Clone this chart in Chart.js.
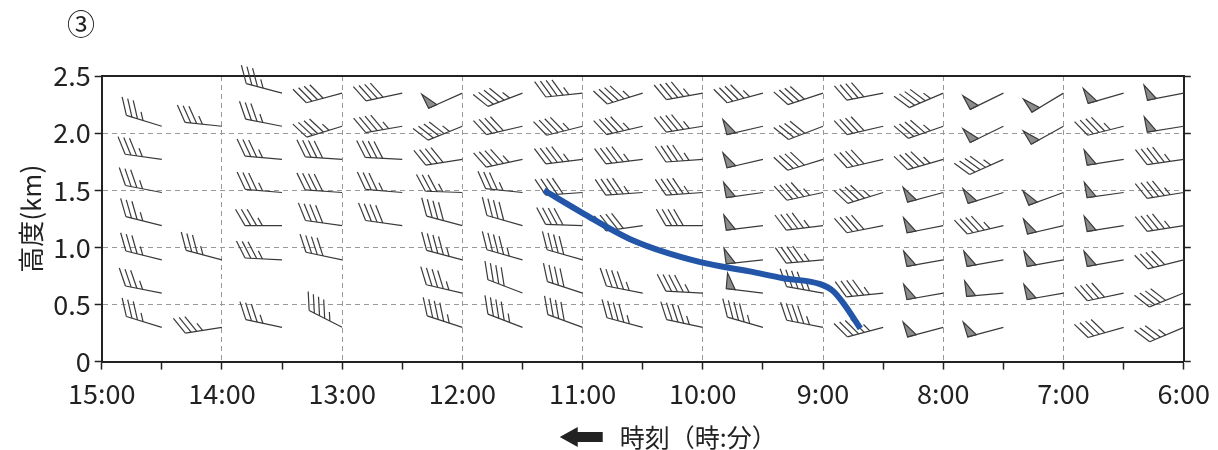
<!DOCTYPE html>
<html>
<head>
<meta charset="utf-8">
<script src="https://cdn.jsdelivr.net/npm/chart.js@4.4.0/dist/chart.umd.min.js"></script>
<style>
  html, body { margin: 0; padding: 0; background: #fff; }
  #grafico { display: block; }
</style>
</head>
<body>
<canvas id="grafico" width="1218" height="450"></canvas>
<script>
// columnas de las barbas (hora) y alturas de cada fila (km)
const horasColumna = [14.5, 14, 13.5, 13, 12.5, 12, 11.5, 11, 10.5, 10, 9.5, 9, 8.5, 8, 7.5, 7, 6.5, 6];
const alturasFila = [0.3, 0.6, 0.89, 1.19, 1.48, 1.77, 2.06, 2.35];

// direccion del viento (grados, de donde sopla) por columna, filas de abajo hacia arriba
const direccionViento = [
  [287, 281, 284, 284, 281, 278, 287, null],
  [261, null, 285, null, null, null, 276, null],
  [282, null, 273, 270, 275, 275, 281, 285],
  [297, null, 282, 278, 274, 274, 253, 255],
  [null, null, null, 278, 275, 273, 260, 258],
  [288, 283, 285, 285, 272, 261, 248, 246],
  [291, 291, 286, 286, 276, 258, 257, 249],
  [290, 288, 286, 272, 266, 263, 256, 264],
  [285, 281, null, 262, 266, 263, 257, 253],
  [282, 273, null, 270, 266, 266, 261, 260],
  [286, 277, 264, 263, 262, 257, 257, 255],
  [281, 280, 265, 263, 258, 253, 249, 252],
  [255, 264, null, 259, 253, 257, 257, 259],
  [255, 260, 260, 259, 255, 254, 251, 247],
  [255, 265, 260, 257, 253, 246, 244, 244],
  [null, 260, 260, 257, 250, null, 241, 239],
  [254, 258, 260, 261, 262, 261, 256, 254],
  [247, 248, 256, 261, 261, 262, 261, 259]
];

// velocidad (nudos) por columna, filas de abajo hacia arriba
const velocidadViento = [
  [35, 35, 35, 35, 35, 35, 35, null],
  [35, null, 35, null, null, null, 35, null],
  [35, null, 35, 35, 35, 35, 35, 35],
  [45, null, 40, 40, 40, 40, 45, 40],
  [null, null, null, 40, 35, 40, 45, 40],
  [45, 45, 45, 40, 35, 40, 45, 50],
  [45, 40, 45, 40, 35, 45, 40, 45],
  [40, 40, 40, 40, 40, 45, 45, 45],
  [45, 45, null, 40, 45, 45, 45, 45],
  [45, 45, null, 40, 45, 45, 45, 45],
  [45, 50, 50, 50, 50, 50, 50, 45],
  [45, 45, 45, 45, 45, 40, 40, 40],
  [45, 45, null, 40, 45, 40, 40, 40],
  [50, 50, 50, 50, 50, 45, 45, 45],
  [50, 50, 50, 45, 50, 45, 50, 50],
  [null, 50, 50, 50, 50, null, 50, 50],
  [40, 40, 50, 50, 50, 50, 45, 50],
  [35, 40, 40, 45, 45, 45, 50, 50]
];

// linea azul (hora, altura km)
const lineaHoras = [11.32, 11.0, 10.58, 10.02, 9.61, 9.33, 9.03, 8.92, 8.83, 8.69];
const lineaAlturas = [1.50, 1.30, 1.06, 0.87, 0.79, 0.73, 0.68, 0.62, 0.51, 0.29];

const ticksAltura = [0, 0.5, 1.0, 1.5, 2.0, 2.5];
const fuente = "'Noto Sans CJK JP', 'Noto Sans', sans-serif";

function dibujarBarba(ctx, sx, sy, grados, nudos) {
  const rad = grados * Math.PI / 180;
  const ux = Math.sin(rad), uy = -Math.cos(rad);
  const largo = 37;
  const tx = sx + ux * largo, ty = sy + uy * largo;
  const rot = (a) => {
    const c = Math.cos(a * Math.PI / 180), s = Math.sin(a * Math.PI / 180);
    return [ux * c - uy * s, ux * s + uy * c];
  };
  ctx.beginPath();
  ctx.moveTo(sx, sy);
  ctx.lineTo(tx, ty);
  ctx.stroke();

  const [fx, fy] = rot(60);
  let resto = nudos;
  let pos = 0;
  while (resto >= 50) {
    const [px, py] = rot(88);
    const bx = tx - ux * pos, by = ty - uy * pos;
    ctx.beginPath();
    ctx.moveTo(bx, by);
    ctx.lineTo(bx + px * 15.5, by + py * 15.5);
    ctx.lineTo(bx - ux * 9, by - uy * 9);
    ctx.closePath();
    ctx.fill();
    ctx.stroke();
    pos += 11;
    resto -= 50;
  }
  while (resto >= 10) {
    const bx = tx - ux * pos, by = ty - uy * pos;
    ctx.beginPath();
    ctx.moveTo(bx, by);
    ctx.lineTo(bx + fx * 19, by + fy * 19);
    ctx.stroke();
    pos += 5.8;
    resto -= 10;
  }
  if (resto >= 5) {
    if (pos === 0) pos = 5.8;
    const bx = tx - ux * pos, by = ty - uy * pos;
    ctx.beginPath();
    ctx.moveTo(bx, by);
    ctx.lineTo(bx + fx * 9, by + fy * 9);
    ctx.stroke();
  }
}

const pluginBarbas = {
  id: "barbas",
  beforeDatasetsDraw(chart) {
    const ctx = chart.ctx;
    const x = chart.scales.x, y = chart.scales.y;
    ctx.save();
    ctx.strokeStyle = "#3a3a3a";
    ctx.fillStyle = "#8c8c8c";
    ctx.lineWidth = 1.2;
    ctx.lineJoin = "miter";
    horasColumna.forEach((hora, i) => {
      alturasFila.forEach((alt, j) => {
        const d = direccionViento[i][j];
        const v = velocidadViento[i][j];
        if (d === null || v === null) return;
        dibujarBarba(ctx, x.getPixelForValue(hora), y.getPixelForValue(alt), d, v);
      });
    });
    ctx.restore();
  },
  afterDraw(chart) {
    const ctx = chart.ctx;
    const area = chart.chartArea;
    ctx.save();
    ctx.fillStyle = "#222";
    ctx.textBaseline = "middle";
    ctx.textAlign = "center";
    ctx.font = "28px " + fuente;
    ctx.fillText("③", 81, 24);
    // titulo del eje x con flecha
    const cx = (area.left + area.right) / 2 + 24;
    const cy = 437;
    ctx.font = "25px " + fuente;
    ctx.textAlign = "left";
    ctx.fillText("時刻（時:分）", cx - 47, cy);
    const ax = cx - 107;
    ctx.beginPath();
    ctx.moveTo(ax, cy);
    ctx.lineTo(ax + 18, cy - 10);
    ctx.lineTo(ax + 18, cy - 5);
    ctx.lineTo(ax + 43, cy - 5);
    ctx.lineTo(ax + 43, cy + 5);
    ctx.lineTo(ax + 18, cy + 5);
    ctx.lineTo(ax + 18, cy + 10);
    ctx.closePath();
    ctx.fill();
    ctx.restore();
  }
};

const datosLinea = lineaHoras.map((h, i) => ({ x: h, y: lineaAlturas[i] }));

const config = {
  type: "line",
  data: {
    datasets: [{
      data: datosLinea,
      borderColor: "#2356a8",
      borderWidth: 6,
      pointRadius: 0,
      cubicInterpolationMode: "monotone",
      fill: false
    }]
  },
  options: {
    responsive: false,
    animation: false,
    layout: { padding: { left: 16, right: 22, top: 68, bottom: 32 } },
    plugins: { legend: { display: false }, tooltip: { enabled: false } },
    scales: {
      x: {
        type: "linear",
        min: 6,
        max: 15,
        reverse: true,
        ticks: {
          stepSize: 0.5,
          autoSkip: false,
          maxRotation: 0,
          color: "#222",
          font: { size: 27, family: fuente },
          padding: 8,
          callback: (v) => Number.isInteger(v) ? v + ":00" : ""
        },
        grid: {
          color: (c) => (Number.isInteger(c.tick.value) && c.tick.value !== 6 && c.tick.value !== 15) ? "#999" : "rgba(0,0,0,0)",
          tickColor: "#222",
          tickLength: 8,
          tickWidth: 1.5
        },
        border: { color: "#222", width: 2, dash: [5, 4] }
      },
      x2: {
        type: "linear",
        position: "top",
        min: 6,
        max: 15,
        reverse: true,
        ticks: { display: false },
        grid: { display: false },
        border: { color: "#222", width: 2 }
      },
      y: {
        min: 0,
        max: 2.5,
        afterBuildTicks: (s) => { s.ticks = ticksAltura.map(v => ({ value: v })); },
        ticks: {
          color: "#222",
          font: { size: 27, family: fuente },
          padding: 4,
          callback: (v) => v === 0 ? "0" : v.toFixed(1)
        },
        grid: {
          color: (c) => (c.tick.value > 0 && c.tick.value < 2.5) ? "#999" : "rgba(0,0,0,0)",
          tickColor: "#222",
          tickLength: 7,
          tickWidth: 1.5
        },
        border: { color: "#222", width: 2, dash: [5, 4] },
        title: {
          display: true,
          text: "高度(km)",
          color: "#222",
          font: { size: 26, family: fuente },
          padding: { top: 0, bottom: 2 }
        }
      },
      y2: {
        position: "right",
        min: 0,
        max: 2.5,
        afterBuildTicks: (s) => { s.ticks = ticksAltura.map(v => ({ value: v })); },
        ticks: { display: false },
        grid: { drawOnChartArea: false, tickColor: "#222", tickLength: 7, tickWidth: 1.5 },
        border: { color: "#222", width: 2 }
      }
    }
  },
  plugins: [pluginBarbas]
};

new Chart(document.getElementById("grafico"), config);
</script>
</body>
</html>
